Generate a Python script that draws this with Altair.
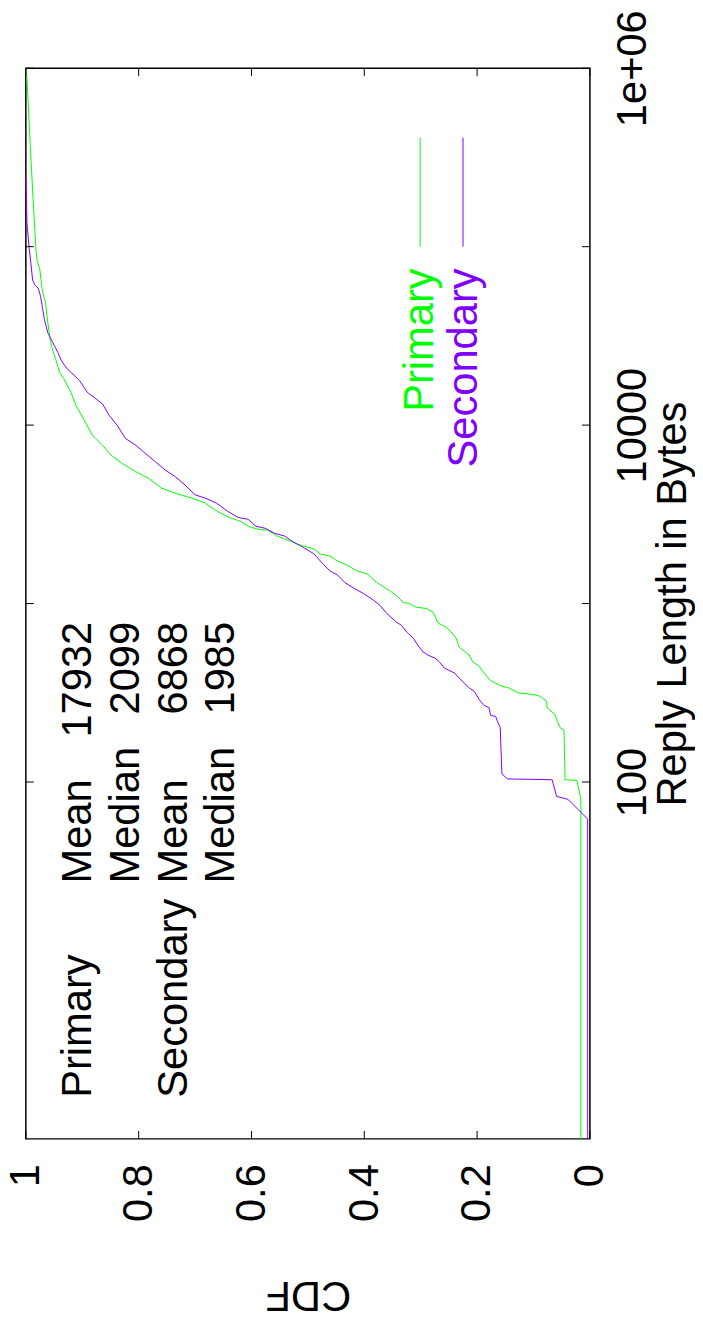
import altair as alt
import pandas as pd

# ---------------- data ----------------
primary_len = [1, 80, 102, 103, 195, 202, 219, 239, 261, 283, 302, 308, 316, 337, 346,
               370, 398, 447, 472, 514, 572, 639, 693, 738, 778, 895, 938, 954, 1000, 1017,
               1108, 1181, 1313, 1468, 1525, 1647, 1733, 1848, 1897, 2022, 2074, 2154, 2268,
               2387, 2577, 2610, 2712, 2891, 3006, 3205, 3357, 3655, 3899, 4150, 4426, 5031,
               5483, 6098, 6788, 7715, 8770, 10620, 12860, 15240, 18080, 19680, 23350, 26100,
               30150, 37350, 48200, 57200, 73800, 83900, 95300, 180700, 359400, 876800, 1000000]
primary_cdf = [0.016, 0.016, 0.023, 0.044, 0.046, 0.053, 0.058, 0.062, 0.076, 0.077, 0.088,
               0.097, 0.127, 0.144, 0.158, 0.176, 0.185, 0.197, 0.208, 0.214, 0.232, 0.237,
               0.246, 0.255, 0.269, 0.278, 0.290, 0.308, 0.320, 0.331, 0.343, 0.355, 0.378,
               0.395, 0.413, 0.431, 0.448, 0.461, 0.478, 0.489, 0.501, 0.519, 0.536, 0.554,
               0.571, 0.589, 0.606, 0.619, 0.636, 0.654, 0.665, 0.682, 0.706, 0.735, 0.759,
               0.782, 0.805, 0.829, 0.849, 0.864, 0.882, 0.896, 0.911, 0.920, 0.932, 0.940,
               0.947, 0.952, 0.957, 0.961, 0.965, 0.971, 0.975, 0.980, 0.982, 0.987, 0.992,
               0.998, 1.0]

secondary_len = [1, 62, 80, 83, 103, 104, 111, 202, 219, 233, 236, 261, 269, 289, 322, 337,
                 359, 383, 408, 435, 472, 495, 514, 536, 584, 639, 693, 755, 787, 880, 975,
                 1040, 1137, 1211, 1308, 1449, 1525, 1690, 1897, 2047, 2154, 2268, 2387, 2478,
                 2643, 2712, 2966, 3041, 3285, 3655, 3899, 4066, 4624, 5140, 5600, 6224, 6930,
                 7715, 8395, 9950, 11320, 13130, 14310, 15240, 17780, 18960, 20550, 22960,
                 25450, 28910, 32880, 38990, 46420, 52730, 58440, 60980, 65020, 80470, 97500,
                 134300, 244800]
secondary_cdf = [0.004, 0.004, 0.039, 0.059, 0.067, 0.146, 0.156, 0.159, 0.164, 0.167, 0.176,
                 0.179, 0.188, 0.196, 0.205, 0.214, 0.223, 0.232, 0.240, 0.258, 0.267, 0.275,
                 0.287, 0.296, 0.305, 0.313, 0.325, 0.334, 0.343, 0.360, 0.372, 0.383, 0.401,
                 0.417, 0.434, 0.448, 0.461, 0.475, 0.489, 0.506, 0.519, 0.531, 0.541, 0.559,
                 0.576, 0.592, 0.606, 0.624, 0.642, 0.662, 0.682, 0.700, 0.718, 0.735, 0.753,
                 0.770, 0.788, 0.805, 0.823, 0.838, 0.852, 0.864, 0.879, 0.891, 0.905, 0.914,
                 0.926, 0.937, 0.943, 0.952, 0.961, 0.967, 0.971, 0.974, 0.978, 0.984, 0.988,
                 0.991, 0.994, 0.998, 1.0]

series_names = ["Primary", "Secondary"]
series_colors = ["#00ff00", "#8000ff"]

# axis ticks / labels
len_ticks = [100, 1000, 10000, 100000, 1000000]
len_label_values = [100, 10000, 1000000]
len_label_texts = ["100", "10000", "1e+06"]
cdf_ticks = [0, 0.2, 0.4, 0.6, 0.8, 1.0]

# statistics text block (placed in data coordinates)
stats_words = ["Primary", "Mean", "17932", "Median", "2099",
               "Secondary", "Mean", "6868", "Median", "1985"]
stats_cdf = [0.884, 0.884, 0.884, 0.800, 0.800, 0.715, 0.715, 0.715, 0.631, 0.631]
stats_len = [1.7, 27, 790, 27, 790, 1.7, 27, 790, 27, 790]
stats_align = ["left", "left", "right", "left", "right",
               "left", "left", "right", "left", "right"]

# key (legend) placed in data coordinates
key_text_cdf = [0.278, 0.200]
key_text_len = [75500, 75500]
key_line_cdf = [0.301, 0.225]
key_line_top = [408000, 408000]
key_line_bottom = [100000, 100000]

# ---------------- build tables ----------------
rows = []
for name, lens, cdfs in [("Primary", primary_len, primary_cdf),
                         ("Secondary", secondary_len, secondary_cdf)]:
    for i, (l, c) in enumerate(zip(lens, cdfs)):
        rows.append({"series": name, "idx": i, "len": l, "cdf": c})
curves = pd.DataFrame(rows)

stats = pd.DataFrame({"text": stats_words, "cdf": stats_cdf, "len": stats_len,
                      "align": stats_align})
key = pd.DataFrame({"series": series_names, "cdf": key_text_cdf, "len": key_text_len,
                    "lcdf": key_line_cdf, "ltop": key_line_top, "lbot": key_line_bottom})
len_tick_df = pd.DataFrame({"len": len_ticks})
cdf_tick_df = pd.DataFrame({"cdf": cdf_ticks})

W, H = 569, 1080
FONT = "Liberation Sans"
FS = 42
TICK = 8

label_expr = " : ".join(
    [f"datum.value == {v} ? '{t}'" for v, t in zip(len_label_values[:-1], len_label_texts[:-1])]
    + [f"'{len_label_texts[-1]}'"]
)

xscale = alt.Scale(domain=[0, 1], reverse=True, nice=False)
yscale = alt.Scale(type="log", domain=[1, 1000000], nice=False)
color_scale = alt.Scale(domain=series_names, range=series_colors)

x_axis = alt.Axis(orient="bottom", values=cdf_ticks, format="~g", labelAngle=270,
                  labelAlign="right", labelBaseline="middle", labelPadding=25,
                  labelFlush=False, labelOverlap=False, ticks=False, tickSize=0,
                  domain=False, grid=False, labelFont=FONT, labelFontSize=FS,
                  labelColor="black", title="CDF", titleFont=FONT, titleFontSize=FS,
                  titleFontWeight="normal", titleColor="black", titleAngle=180,
                  titleAlign="center", titleBaseline="alphabetic", titleX=W / 2, titleY=144)
y_axis = alt.Axis(orient="right", values=len_label_values, labelExpr=label_expr,
                  labelAngle=270, labelAlign="center", labelBaseline="alphabetic",
                  labelPadding=56, labelOverlap=False, labelFlush=False, ticks=False,
                  tickSize=0, domain=False, grid=False, labelFont=FONT, labelFontSize=FS,
                  labelColor="black", title="Reply Length in Bytes", titleFont=FONT,
                  titleFontSize=FS, titleFontWeight="normal", titleColor="black",
                  titleAngle=270, titleAlign="center", titleBaseline="alphabetic",
                  titleX=96, titleY=H / 2)


def X(field="cdf"):
    return alt.X(f"{field}:Q", scale=xscale, axis=x_axis)


def Y(field="len"):
    return alt.Y(f"{field}:Q", scale=yscale, axis=y_axis)


lines = alt.Chart(curves).mark_line(strokeWidth=1).encode(
    x=X(), y=Y(),
    color=alt.Color("series:N", scale=color_scale, legend=None),
    order=alt.Order("idx:Q"),
    detail="series:N",
)

tick_r = alt.Chart(len_tick_df).mark_rule(color="black", strokeWidth=1).encode(
    y=Y(), x=alt.value(W - TICK), x2=alt.value(W))
tick_l = alt.Chart(len_tick_df).mark_rule(color="black", strokeWidth=1).encode(
    y=Y(), x=alt.value(0), x2=alt.value(TICK))
tick_b = alt.Chart(cdf_tick_df).mark_rule(color="black", strokeWidth=1).encode(
    x=X(), y=alt.value(H - TICK), y2=alt.value(H))
tick_t = alt.Chart(cdf_tick_df).mark_rule(color="black", strokeWidth=1).encode(
    x=X(), y=alt.value(0), y2=alt.value(TICK))

stats_left = alt.Chart(stats).transform_filter("datum.align == 'left'").mark_text(
    angle=270, align="left", baseline="alphabetic", font=FONT, fontSize=FS, color="black"
).encode(x=X(), y=Y(), text="text:N")
stats_right = alt.Chart(stats).transform_filter("datum.align == 'right'").mark_text(
    angle=270, align="right", baseline="alphabetic", font=FONT, fontSize=FS, color="black"
).encode(x=X(), y=Y(), text="text:N")

key_text = alt.Chart(key).mark_text(
    angle=270, align="right", baseline="alphabetic", font=FONT, fontSize=FS
).encode(x=X(), y=Y(), text="series:N",
         color=alt.Color("series:N", scale=color_scale, legend=None))
key_lines = alt.Chart(key).mark_rule(strokeWidth=1).encode(
    x=X("lcdf"), y=Y("ltop"), y2="lbot:Q",
    color=alt.Color("series:N", scale=color_scale, legend=None))

chart = alt.layer(
    lines, tick_r, tick_l, tick_b, tick_t, stats_left, stats_right, key_text, key_lines
).properties(
    width=W, height=H,
    background="white",
    autosize=alt.AutoSizeParams(type="none"),
    padding={"left": 18, "top": 55, "right": 106, "bottom": 182},
).configure_view(stroke="black", strokeWidth=1.5)

chart.save("out.html", embed_options={"renderer": "svg", "actions": False})
